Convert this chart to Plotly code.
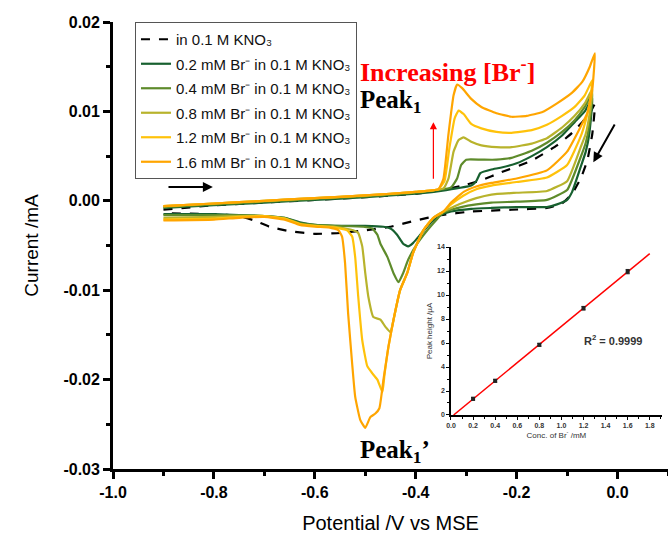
import numpy as np
import plotly.graph_objects as go

# ---------------- main CV data (potential V vs MSE, current mA) ----------------
E_kno3 = [-0.90, -0.80, -0.70, -0.60, -0.50, -0.40, -0.35, -0.30, -0.27, -0.23, -0.17, -0.12, -0.09, -0.07, -0.055, -0.045,
          -0.05, -0.06, -0.073, -0.09, -0.11, -0.14, -0.21, -0.29, -0.35, -0.40, -0.45, -0.50, -0.55, -0.60, -0.65, -0.69, -0.72, -0.75, -0.80, -0.90]
I_kno3 = [-0.0010, -0.0005, -0.0002, 0.0001, 0.0004, 0.0008, 0.0012, 0.0018, 0.0023, 0.0032, 0.0045, 0.0062, 0.0076, 0.0088, 0.0098, 0.0108,
          0.0075, 0.0045, 0.0025, 0.0008, -0.0003, -0.0008, -0.0010, -0.0012, -0.0016, -0.0022, -0.0029, -0.0033, -0.0036, -0.0037, -0.0034, -0.0029, -0.0022, -0.0017, -0.0015, -0.0014]

E_br02 = [-0.90, -0.80, -0.70, -0.60, -0.50, -0.40, -0.34, -0.29, -0.28, -0.272, -0.25, -0.232, -0.20, -0.17, -0.14, -0.11, -0.085, -0.065, -0.05,
          -0.056, -0.063, -0.073, -0.09, -0.10, -0.12, -0.14, -0.20, -0.25, -0.29, -0.33, -0.351, -0.371, -0.391, -0.405, -0.415, -0.425, -0.437, -0.450, -0.464, -0.50, -0.56, -0.60, -0.63, -0.66, -0.70, -0.75, -0.80, -0.90]
I_br02 = [-0.0008, -0.0005, -0.0002, 0.0001, 0.0004, 0.0008, 0.0012, 0.0017, 0.0022, 0.0031, 0.0035, 0.0037, 0.0042, 0.0050, 0.0060, 0.0073, 0.0088, 0.0100, 0.0115,
          0.0075, 0.0055, 0.0038, 0.0010, 0.0001, -0.0004, -0.0007, -0.0007, -0.0008, -0.0009, -0.0012, -0.0016, -0.0025, -0.0038, -0.0047, -0.0051, -0.0048, -0.0038, -0.0031, -0.0029, -0.0028, -0.0028, -0.0027, -0.0024, -0.0019, -0.0017, -0.0016, -0.0015, -0.0015]

E_br04 = [-0.90, -0.80, -0.70, -0.60, -0.50, -0.40, -0.33, -0.318, -0.31, -0.30, -0.27, -0.24, -0.21, -0.17, -0.14, -0.11, -0.085, -0.065, -0.05,
          -0.056, -0.063, -0.073, -0.10, -0.14, -0.20, -0.25, -0.28, -0.31, -0.33, -0.345, -0.357, -0.377, -0.397, -0.415, -0.425, -0.434, -0.444, -0.456, -0.470, -0.476, -0.486, -0.504, -0.56, -0.60, -0.63, -0.66, -0.70, -0.75, -0.80, -0.90]
I_br04 = [-0.0007, -0.0004, -0.0001, 0.0002, 0.0005, 0.0009, 0.0015, 0.0025, 0.0040, 0.0046, 0.0046, 0.0046, 0.0048, 0.0056, 0.0065, 0.0077, 0.0090, 0.0105, 0.0120,
          0.0085, 0.0065, 0.0049, 0.0012, 0.0001, -0.0001, -0.0002, -0.0004, -0.0007, -0.0010, -0.0013, -0.0020, -0.0033, -0.0048, -0.0066, -0.0081, -0.0091, -0.0081, -0.0063, -0.0048, -0.0038, -0.0031, -0.0029, -0.0028, -0.0027, -0.0025, -0.0019, -0.0017, -0.0016, -0.0016, -0.0016]

E_br08 = [-0.90, -0.80, -0.70, -0.60, -0.50, -0.40, -0.345, -0.335, -0.325, -0.315, -0.305, -0.29, -0.27, -0.24, -0.21, -0.17, -0.14, -0.11, -0.085, -0.065, -0.05,
          -0.056, -0.063, -0.073, -0.10, -0.14, -0.20, -0.25, -0.28, -0.31, -0.33, -0.345, -0.365, -0.385, -0.405, -0.417, -0.431, -0.444, -0.450, -0.460, -0.470, -0.484, -0.494, -0.500, -0.506, -0.514, -0.524, -0.56, -0.60, -0.63, -0.66, -0.70, -0.75, -0.80, -0.90]
I_br08 = [-0.0006, -0.0003, 0.0000, 0.0003, 0.0006, 0.0010, 0.0014, 0.0025, 0.0055, 0.0068, 0.0071, 0.0066, 0.0062, 0.0060, 0.0060, 0.0064, 0.0070, 0.0082, 0.0095, 0.0109, 0.0125,
          0.0095, 0.0075, 0.0060, 0.0022, 0.0011, 0.0009, 0.0007, 0.0003, -0.0003, -0.0008, -0.0012, -0.0019, -0.0033, -0.0058, -0.0081, -0.0100, -0.0133, -0.0147, -0.0141, -0.0133, -0.0130, -0.0107, -0.0081, -0.0051, -0.0036, -0.0033, -0.0029, -0.0028, -0.0026, -0.0020, -0.0017, -0.0017, -0.0018, -0.0019]

E_br12 = [-0.90, -0.80, -0.70, -0.60, -0.50, -0.40, -0.355, -0.343, -0.333, -0.323, -0.315, -0.305, -0.29, -0.27, -0.24, -0.21, -0.17, -0.14, -0.11, -0.085, -0.065, -0.05,
          -0.055, -0.063, -0.073, -0.10, -0.14, -0.20, -0.25, -0.28, -0.305, -0.33, -0.345, -0.365, -0.385, -0.405, -0.417, -0.431, -0.444, -0.454, -0.462, -0.466, -0.476, -0.486, -0.496, -0.506, -0.514, -0.520, -0.526, -0.536, -0.56, -0.60, -0.63, -0.66, -0.70, -0.75, -0.80, -0.90]
I_br12 = [-0.0006, -0.0003, 0.0000, 0.0003, 0.0006, 0.0010, 0.0013, 0.0022, 0.0060, 0.0092, 0.0101, 0.0097, 0.0086, 0.0081, 0.0077, 0.0076, 0.0079, 0.0085, 0.0095, 0.0105, 0.0118, 0.0135,
          0.0110, 0.0090, 0.0072, 0.0040, 0.0026, 0.0021, 0.0017, 0.0013, 0.0006, -0.0004, -0.0012, -0.0019, -0.0033, -0.0058, -0.0081, -0.0100, -0.0133, -0.0163, -0.0195, -0.0214, -0.0200, -0.0193, -0.0185, -0.0156, -0.0107, -0.0063, -0.0040, -0.0033, -0.0030, -0.0028, -0.0026, -0.0020, -0.0017, -0.0018, -0.0020, -0.0021]

E_br16 = [-0.90, -0.80, -0.70, -0.60, -0.50, -0.40, -0.355, -0.345, -0.335, -0.325, -0.318, -0.308, -0.29, -0.27, -0.24, -0.21, -0.18, -0.15, -0.12, -0.09, -0.07, -0.055, -0.045,
          -0.05, -0.06, -0.073, -0.10, -0.14, -0.20, -0.25, -0.28, -0.305, -0.33, -0.345, -0.365, -0.385, -0.405, -0.417, -0.431, -0.444, -0.454, -0.464, -0.472, -0.480, -0.490, -0.500, -0.510, -0.520, -0.526, -0.534, -0.540, -0.546, -0.553, -0.57, -0.60, -0.63, -0.66, -0.70, -0.75, -0.80, -0.90]
I_br16 = [-0.0006, -0.0003, 0.0000, 0.0003, 0.0006, 0.0010, 0.0013, 0.0025, 0.0075, 0.0118, 0.0130, 0.0126, 0.0114, 0.0105, 0.0098, 0.0094, 0.0095, 0.0099, 0.0109, 0.0121, 0.0133, 0.0150, 0.0165,
          0.0125, 0.0098, 0.0083, 0.0055, 0.0034, 0.0025, 0.0020, 0.0016, 0.0010, -0.0002, -0.0012, -0.0019, -0.0033, -0.0058, -0.0081, -0.0100, -0.0133, -0.0163, -0.0200, -0.0232, -0.0238, -0.0242, -0.0254, -0.0245, -0.0219, -0.0182, -0.0126, -0.0070, -0.0040, -0.0033, -0.0030, -0.0029, -0.0027, -0.0021, -0.0018, -0.0019, -0.0021, -0.0022]

series_names = ["in 0.1 M KNO₃",
                "0.2 mM Br⁻ in 0.1 M KNO₃",
                "0.4 mM Br⁻ in 0.1 M KNO₃",
                "0.8 mM Br⁻ in 0.1 M KNO₃",
                "1.2 mM Br⁻ in 0.1 M KNO₃",
                "1.6 mM Br⁻ in 0.1 M KNO₃"]
series_E = [E_kno3, E_br02, E_br04, E_br08, E_br12, E_br16]
series_I = [I_kno3, I_br02, I_br04, I_br08, I_br12, I_br16]
series_colors = ["#000000", "#17602f", "#5e8b2b", "#b8b32c", "#ffc20a", "#ffa500"]

# ---------------- inset calibration data ----------------
conc_mM = [0.2, 0.4, 0.8, 1.2, 1.6]
peak_uA = [1.35, 2.85, 5.85, 8.9, 11.95]
peak_err = [0.12, 0.12, 0.12, 0.15, 0.18]

x_ticks = [-1.0, -0.8, -0.6, -0.4, -0.2, 0.0]
x_ticktext = ["-1.0", "-0.8", "-0.6", "-0.4", "-0.2", "0.0"]
y_ticks = [-0.03, -0.02, -0.01, 0.00, 0.01, 0.02]
y_ticktext = ["-0.03", "-0.02", "-0.01", "0.00", "0.01", "0.02"]
inset_x_ticks = [0, 0.2, 0.4, 0.6, 0.8, 1.0, 1.2, 1.4, 1.6, 1.8]
inset_x_ticktext = ["0.0", "0.2", "0.4", "0.6", "0.8", "1.0", "1.2", "1.4", "1.6", "1.8"]
inset_y_ticks = [0, 2, 4, 6, 8, 10, 12, 14]

FONT = "Arial, Liberation Sans, sans-serif"
SERIF = "Times New Roman, Liberation Serif, serif"

fig = go.Figure()
for i, (nm, E, I, c) in enumerate(zip(series_names, series_E, series_I, series_colors)):
    fig.add_trace(go.Scatter(
        x=E, y=I, mode="lines", name=nm, legendgroup="g%d" % i,
        line=dict(color=c, width=2.2, dash="dash" if i == 0 else "solid",
                  shape="spline", smoothing=0.4),
        xaxis="x", yaxis="y"))

# inset
slope, intercept = np.polyfit(conc_mM, peak_uA, 1)
fit_x = [-intercept / slope, 1.8]
fit_y = [slope * v + intercept for v in fit_x]
fig.add_trace(go.Scatter(x=fit_x, y=fit_y, mode="lines", line=dict(color="#ff0000", width=1.5),
                         xaxis="x2", yaxis="y2", showlegend=False))
fig.add_trace(go.Scatter(x=conc_mM, y=peak_uA, mode="markers",
                         marker=dict(symbol="square", size=4, color="#222"),
                         error_y=dict(type="data", array=peak_err, color="#222", thickness=1, width=2),
                         xaxis="x2", yaxis="y2", showlegend=False))

fig.update_layout(
    width=668, height=536,
    margin=dict(l=113, r=0, t=22, b=67),
    paper_bgcolor="white", plot_bgcolor="white",
    font=dict(family=FONT, color="black"),
    showlegend=True,
    legend=dict(x=0.0396, y=1.0, xanchor="left", yanchor="top",
                bgcolor="white", bordercolor="#555", borderwidth=1,
                font=dict(size=15, family=FONT, color="#111"),
                itemwidth=30, traceorder="grouped", tracegroupgap=2),
    xaxis=dict(range=[-1.0, 0.1], tickvals=x_ticks, ticktext=x_ticktext,
               showline=True, linecolor="black", linewidth=2.8, showgrid=False, zeroline=False,
               ticks="outside", ticklen=7, tickwidth=2.8, tickcolor="black",
               minor=dict(dtick=0.1, ticks="outside", ticklen=4, tickwidth=2.5, tickcolor="black"),
               tickfont=dict(size=16, family=FONT, weight="bold"),
               title=dict(text="Potential /V vs MSE", font=dict(size=20, family=FONT), standoff=16)),
    yaxis=dict(range=[-0.03, 0.02], tickvals=y_ticks, ticktext=y_ticktext,
               showline=True, linecolor="black", linewidth=2.8, showgrid=False, zeroline=False,
               ticks="outside", ticklen=7, tickwidth=2.8, tickcolor="black",
               minor=dict(dtick=0.005, ticks="outside", ticklen=4, tickwidth=2.5, tickcolor="black"),
               tickfont=dict(size=16, family=FONT, weight="bold"),
               title=dict(text="Current /mA", font=dict(size=19, family=FONT), standoff=20)),
    xaxis2=dict(domain=[0.609, 0.989], anchor="y2", range=[0, 1.91],
                tickvals=inset_x_ticks, ticktext=inset_x_ticktext,
                showline=True, linecolor="black", linewidth=1.5, showgrid=False, zeroline=False,
                ticks="outside", ticklen=3, tickwidth=1.2, tickcolor="black",
                minor=dict(dtick=0.1, ticks="outside", ticklen=2, tickwidth=1, tickcolor="black"),
                tickfont=dict(size=7, family=FONT, color="#333", weight="bold"),
                title=dict(text="Conc. of Br<sup>-</sup> /mM", font=dict(size=8, family=FONT, color="#333"), standoff=4)),
    yaxis2=dict(domain=[0.1208, 0.4966], anchor="x2", range=[0, 14],
                tickvals=inset_y_ticks,
                showline=True, linecolor="black", linewidth=1.5, showgrid=False, zeroline=False,
                ticks="outside", ticklen=3, tickwidth=1.2, tickcolor="black",
                minor=dict(dtick=1, ticks="outside", ticklen=2, tickwidth=1, tickcolor="black"),
                tickfont=dict(size=7, family=FONT, color="#333", weight="bold"),
                title=dict(text="Peak height /µA", font=dict(size=8, family=FONT, color="#333"), standoff=3)),
)

annotations = [
    dict(x=-0.514, y=0.01452, xref="x", yref="y", text="Increasing [Br<sup>-</sup>]", showarrow=False,
         xanchor="left", yanchor="middle", font=dict(family=SERIF, size=26, color="#ff0000", weight="bold")),
    dict(x=-0.514, y=0.01116, xref="x", yref="y", text="Peak<sub>1</sub>", showarrow=False,
         xanchor="left", yanchor="middle", font=dict(family=SERIF, size=25, color="black", weight="bold")),
    dict(x=-0.514, y=-0.02799, xref="x", yref="y", text="Peak<sub>1</sub>’", showarrow=False,
         xanchor="left", yanchor="middle", font=dict(family=SERIF, size=25, color="black", weight="bold")),
    dict(x=1.47, y=6.25, xref="x2", yref="y2", text="R<sup>2</sup> = 0.9999", showarrow=False,
         xanchor="center", yanchor="middle", font=dict(family=FONT, size=11, color="#333", weight="bold")),
    # red arrow
    dict(x=-0.365, y=0.0088, ax=-0.365, ay=0.0023, xref="x", yref="y", axref="x", ayref="y",
         text="", showarrow=True, arrowhead=2, arrowsize=1.2, arrowwidth=1.2, arrowcolor="#ff0000"),
    # scan direction arrows
    dict(x=-0.802, y=0.00154, ax=-0.893, ay=0.00154, xref="x", yref="y", axref="x", ayref="y",
         text="", showarrow=True, arrowhead=2, arrowsize=1, arrowwidth=2, arrowcolor="black"),
    dict(x=-0.048, y=0.0043, ax=-0.004, ay=0.0087, xref="x", yref="y", axref="x", ayref="y",
         text="", showarrow=True, arrowhead=2, arrowsize=1, arrowwidth=2, arrowcolor="black"),
]
fig.update_layout(annotations=annotations)

fig.write_html("out.html")
